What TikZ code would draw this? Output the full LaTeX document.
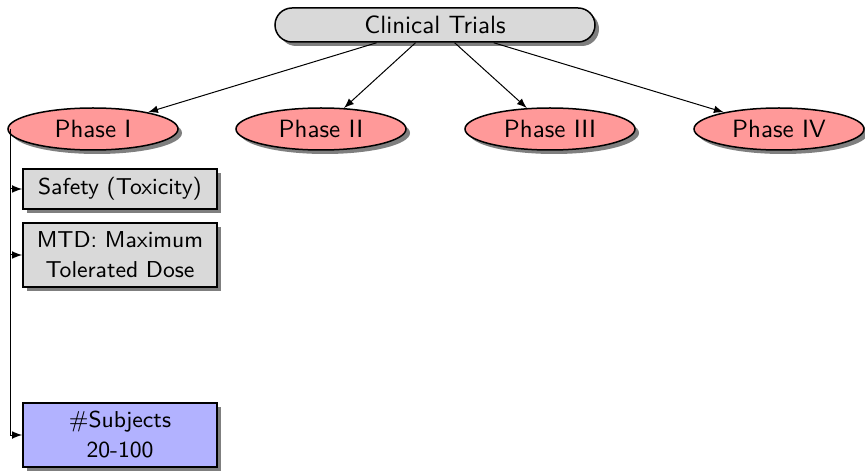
\documentclass[tikz,border=0pt]{standalone}
\usetikzlibrary{shapes.geometric,shadows,calc,arrows}
\begin{document}
\begin{tikzpicture}[x=0.4pt,y=0.4pt,font=\sffamily,
  myshadow/.style={drop shadow={shadow xshift=1.6pt,shadow yshift=-1.6pt,fill=black,opacity=.5}},
  topbox/.style={draw,semithick,rounded corners=6.8pt,fill=black!15,minimum width=128pt,minimum height=13.6pt,inner sep=0pt,myshadow},
  phase/.style={draw,semithick,ellipse,fill=red!40,minimum width=68pt,minimum height=16.8pt,inner sep=0pt,myshadow},
  infobox/.style={draw,semithick,fill=black!15,text width=73.6pt,align=center,inner sep=2pt,minimum width=77.6pt,font=\sffamily\fontsize{9.2}{12}\selectfont,myshadow},
  subjbox/.style={infobox,fill=blue!30},
  link/.style={-latex,thin}]
\useasboundingbox (0,0) rectangle (865,-472);
\node[topbox] (ct) at (435,-25) {Clinical Trials};
\node[phase] (p1) at (93,-129) {Phase I};
\node[phase] (p2) at (321,-129) {Phase II};
\node[phase] (p3) at (550,-129) {Phase III};
\node[phase] (p4) at (779,-129) {Phase IV};
\node[infobox,minimum height=16pt] (s1) at (120,-189) {Safety (Toxicity)};
\node[infobox,minimum height=25.6pt] (s2) at (120,-255) {MTD: Maximum\\Tolerated Dose};
\node[subjbox,minimum height=25.6pt] (s3) at (120,-435) {\#Subjects\\20-100};
\foreach \p in {p1,p2,p3,p4} \draw[link] (ct) -- (\p);
\coordinate (pw) at ($(p1.west)+(1.2pt,0)$);
\foreach \s in {s1,s2,s3} \draw[link] (pw) |- (\s.west);
\end{tikzpicture}
\end{document}
